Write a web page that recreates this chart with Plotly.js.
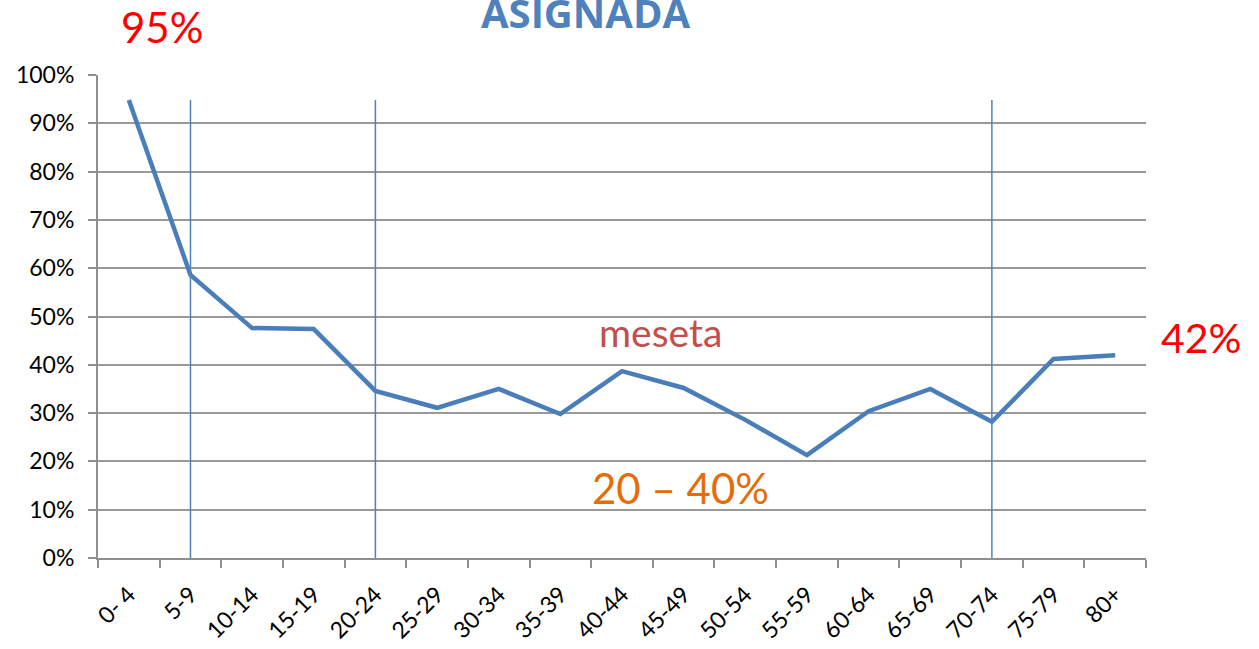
<!DOCTYPE html>
<html><head><meta charset="utf-8">
<script src="https://cdn.plot.ly/plotly-3.0.1.min.js"></script>
<style>html,body{margin:0;padding:0;background:#fff}#c{width:1259px;height:649px}</style>
</head><body><div id="c"></div>
<script>
const categories = ["0- 4","5-9","10-14","15-19","20-24","25-29","30-34","35-39","40-44","45-49","50-54","55-59","60-64","65-69","70-74","75-79","80+"];
const values = [0.948,0.586,0.476,0.474,0.346,0.311,0.350,0.298,0.387,0.352,0.286,0.213,0.304,0.350,0.282,0.412,0.420];
const dividerCategories = ["5-9","20-24","70-74"];
const yTicks = [0,0.1,0.2,0.3,0.4,0.5,0.6,0.7,0.8,0.9,1.0];

const font = "Lato, 'Open Sans', sans-serif";
const grey = "#8f8f8f";

const trace = {
  x: categories, y: values, type: "scatter", mode: "lines",
  line: {color: "#4a7ebb", width: 4.5}, hoverinfo: "skip"
};

const shapes = dividerCategories.map(c => ({
  type: "line", xref: "x", yref: "y", x0: c, x1: c, y0: -0.149, y1: 0.948,
  line: {color: "#4f81bd", width: 1.5}
}));

const layout = {
  width: 1259, height: 649,
  margin: {l: 98, r: 113, t: 75, b: 91},
  paper_bgcolor: "#fff", plot_bgcolor: "#fff",
  showlegend: false,
  font: {family: font, color: "#000", size: 23},
  xaxis: {
    type: "category", range: [-0.5, 16.5],
    showgrid: false, showline: true, linecolor: grey, linewidth: 2,
    ticks: "outside", tickson: "boundaries", ticklen: 8, tickcolor: grey, tickwidth: 2,
    tickangle: -45, tickfont: {family: font, size: 23, color: "#000"},
    ticklabelstandoff: 12,
    zeroline: false
  },
  yaxis: {
    range: [0, 1], tickvals: yTicks, tickformat: ".0%",
    showgrid: true, gridcolor: "#999999", gridwidth: 2,
    showline: true, linecolor: grey, linewidth: 2,
    ticks: "outside", ticklen: 8, tickcolor: grey, tickwidth: 2,
    tickfont: {family: font, size: 23, color: "#000"},
    ticklabelstandoff: 9,
    zeroline: false
  },
  shapes: shapes,
  annotations: [
    {text: "<b>ASIGNADA</b>", xref: "paper", yref: "paper", x: (586-98)/1048, y: (649-91-12)/483, xanchor: "center", yanchor: "middle", showarrow: false, font: {family: "'Open Sans', sans-serif", size: 40, color: "#4f81bd"}},
    {text: "95%", xref: "paper", yref: "paper", x: (162-98)/1048, y: (649-91-27)/483, xanchor: "center", yanchor: "middle", showarrow: false, font: {family: font, size: 42, color: "#ff0000"}},
    {text: "42%", xref: "paper", yref: "paper", x: (1201-98)/1048, y: (649-91-337)/483, xanchor: "center", yanchor: "middle", showarrow: false, font: {family: font, size: 41, color: "#ff0000"}},
    {text: "meseta", xref: "paper", yref: "paper", x: (660-98)/1048, y: (649-91-332)/483, xanchor: "center", yanchor: "middle", showarrow: false, font: {family: font, size: 39, color: "#c0504d"}},
    {text: "20 – 40%", xref: "paper", yref: "paper", x: (680-98)/1048, y: (649-91-488)/483, xanchor: "center", yanchor: "middle", showarrow: false, font: {family: font, size: 42, color: "#e46c0a"}}
  ]
};

Plotly.newPlot("c", [trace], layout, {displayModeBar: false, staticPlot: true});
</script>
</body></html>
